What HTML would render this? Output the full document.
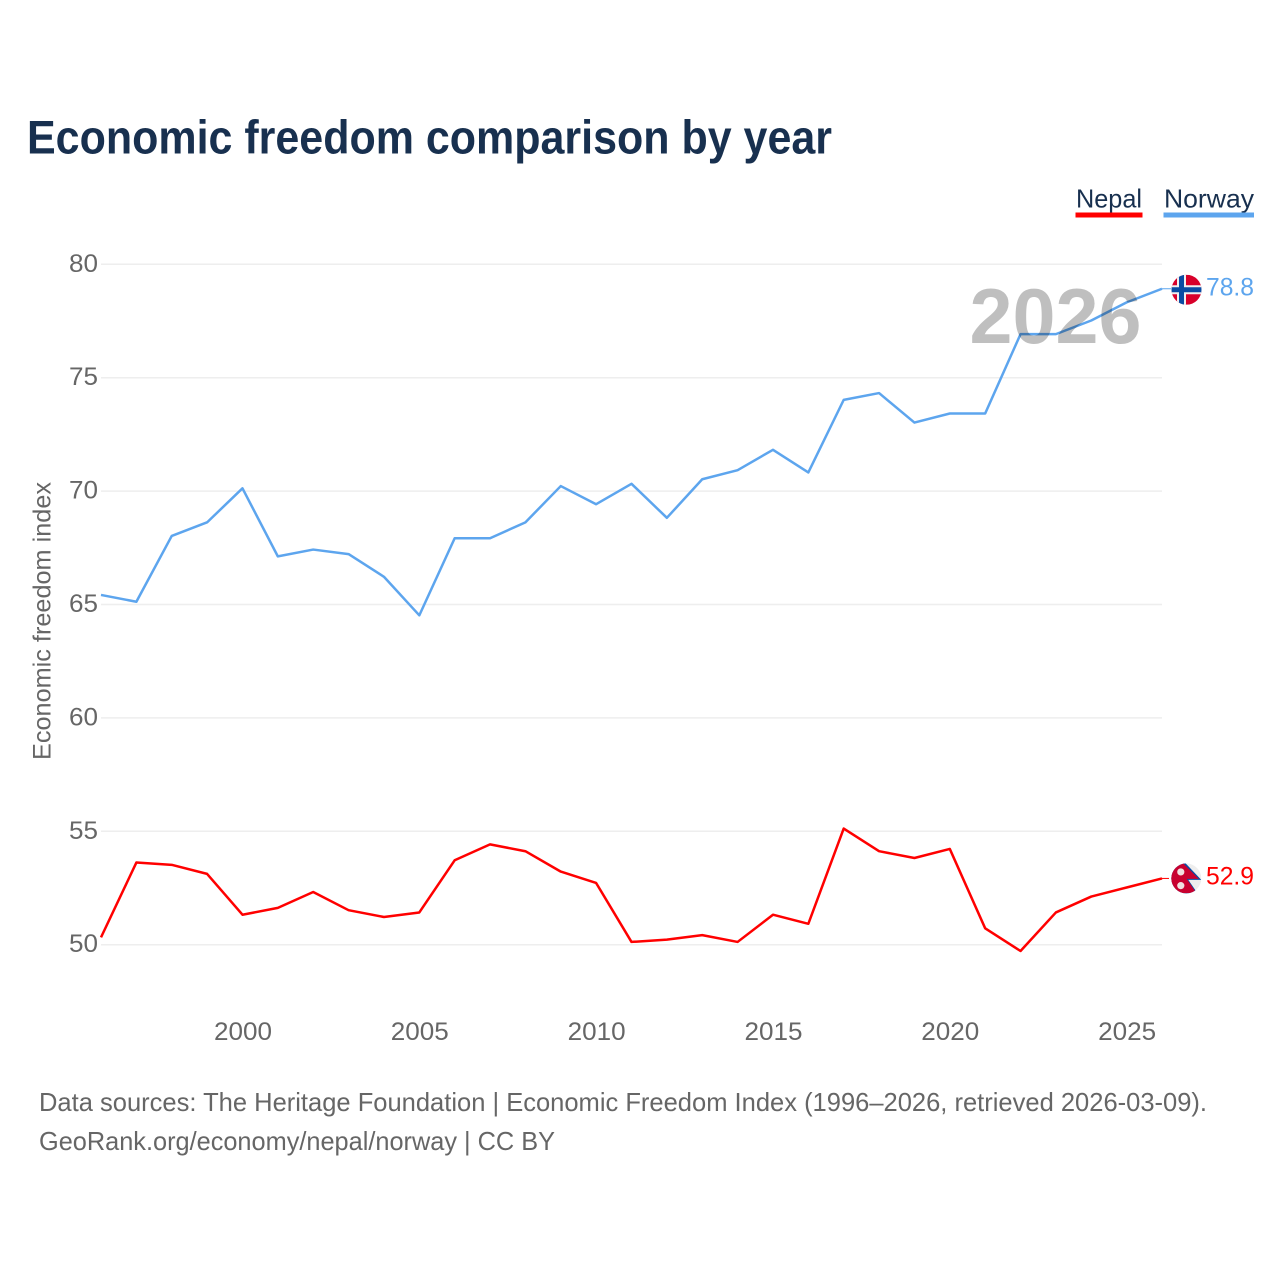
<!DOCTYPE html>
<html>
<head>
<meta charset="utf-8">
<title>Economic freedom comparison by year</title>
<style>
html,body{margin:0;padding:0;background:#fff;width:1280px;height:1280px;overflow:hidden}
svg{display:block}
text{font-family:"Liberation Sans",sans-serif}
</style>
</head>
<body>
<svg id="chart" width="1280" height="1280" viewBox="0 0 1280 1280" xmlns="http://www.w3.org/2000/svg">
  <defs>
    <clipPath id="flag-clip"><circle cx="0" cy="0" r="15"/></clipPath>
  </defs>
  <rect width="1280" height="1280" fill="#fff"/>
  <text x="27" y="153.5" font-size="47" font-weight="700" fill="#18304f" textLength="805" lengthAdjust="spacingAndGlyphs">Economic freedom comparison by year</text>

  <text x="1076" y="207.5" font-size="26" fill="#18304f" textLength="66" lengthAdjust="spacingAndGlyphs">Nepal</text>
  <rect x="1075.5" y="212.5" width="67" height="5" fill="#ff0000"/>
  <text x="1164" y="207.5" font-size="26" fill="#18304f" textLength="90" lengthAdjust="spacingAndGlyphs">Norway</text>
  <rect x="1163.5" y="212.5" width="90.5" height="5" fill="#5da5ee"/>

  <g id="grid"></g>
  <g id="yticks"></g>
  <g id="xticks"></g>
  <text transform="translate(50.5,760) rotate(-90)" x="0" y="0" font-size="25" fill="#666" textLength="278" lengthAdjust="spacingAndGlyphs">Economic freedom index</text>

  <g id="series"></g>

  <text x="969.5" y="343" font-size="78" font-weight="700" fill="#000" fill-opacity="0.25" textLength="172" lengthAdjust="spacingAndGlyphs">2026</text>

  <g id="flag-norway">
    <g clip-path="url(#flag-clip)">
      <rect x="-15" y="-15" width="30" height="30" fill="#d8002a"/>
      <rect x="-9.5" y="-15" width="9" height="30" fill="#f0f0f0"/>
      <rect x="-15" y="-4.5" width="30" height="9" fill="#f0f0f0"/>
      <rect x="-7.5" y="-15" width="5" height="30" fill="#0a4ca3"/>
      <rect x="-15" y="-2.5" width="30" height="5" fill="#0a4ca3"/>
    </g>
  </g>
  <g id="flag-nepal">
    <g clip-path="url(#flag-clip)">
      <rect x="-15" y="-15" width="30" height="30" fill="#eeeeee"/>
      <polygon points="-17,-18 -2.5,-17 15,1.5 2,1.5 12,16 -17,16" fill="#0a4ca3"/>
      <polygon points="-17,-18 -3.5,-15.5 12.5,0.5 0.5,0.5 10,14.5 -17,15" fill="#c8002f"/>
      <circle cx="-5.5" cy="-6.5" r="3.6" fill="#f0dfe0"/>
      <circle cx="-5.5" cy="7.2" r="3.6" fill="#f0dfe0"/>
    </g>
  </g>
  <text id="label-norway" x="1206" font-size="25" fill="#5da5ee" textLength="48" lengthAdjust="spacingAndGlyphs"></text>
  <text id="label-nepal" x="1206" font-size="25" fill="#ff0000" textLength="48" lengthAdjust="spacingAndGlyphs"></text>

  <text x="39" y="1111" font-size="26" fill="#666" textLength="1168" lengthAdjust="spacingAndGlyphs">Data sources: The Heritage Foundation | Economic Freedom Index (1996–2026, retrieved 2026-03-09).</text>
  <text x="39" y="1150" font-size="26" fill="#666" textLength="516" lengthAdjust="spacingAndGlyphs">GeoRank.org/economy/nepal/norway | CC BY</text>
</svg>
<script>
var years = [1996,1997,1998,1999,2000,2001,2002,2003,2004,2005,2006,2007,2008,2009,2010,2011,2012,2013,2014,2015,2016,2017,2018,2019,2020,2021,2022,2023,2024,2025,2026];
var norwayValues = [65.4,65.1,68.0,68.6,70.1,67.1,67.4,67.2,66.2,64.5,67.9,67.9,68.6,70.2,69.4,70.3,68.8,70.5,70.9,71.8,70.8,74.0,74.3,73.0,73.4,73.4,76.9,76.9,77.5,78.3,78.9];
var nepalValues = [50.3,53.6,53.5,53.1,51.3,51.6,52.3,51.5,51.2,51.4,53.7,54.4,54.1,53.2,52.7,50.1,50.2,50.4,50.1,51.3,50.9,55.1,54.1,53.8,54.2,50.7,49.7,51.4,52.1,52.5,52.9];
var yTickValues = [50,55,60,65,70,75,80];
var xTickValues = [2000,2005,2010,2015,2020,2025];
var norwayLabel = "78.8";
var nepalLabel = "52.9";

var NS = "http://www.w3.org/2000/svg";
function xScale(year){ return 101 + (year - 1996) * (1162 - 101) / 30; }
function yScale(v){ return 944.7 - (v - 50) * (944.7 - 264.3) / 30; }
function lineY(v){ return yScale(v) - 0.5; }

var grid = document.getElementById("grid");
var yticks = document.getElementById("yticks");
yTickValues.forEach(function(v){
  var line = document.createElementNS(NS, "line");
  
  
  line.setAttribute("x1", 101);
  line.setAttribute("x2", 1162);
  line.setAttribute("y1", yScale(v));
  line.setAttribute("y2", yScale(v));
  line.setAttribute("stroke", "#eeeeee");
  line.setAttribute("stroke-width", "1.5");
  grid.appendChild(line);

  var t = document.createElementNS(NS, "text");
  
  
  t.setAttribute("x", 98);
  t.setAttribute("y", yScale(v) + 7.5);
  t.setAttribute("text-anchor", "end");
  t.setAttribute("font-size", "25");
  t.setAttribute("fill", "#666");
  t.setAttribute("textLength", "29");
  t.setAttribute("lengthAdjust", "spacingAndGlyphs");
  t.textContent = v;
  yticks.appendChild(t);
});

var xticks = document.getElementById("xticks");
xTickValues.forEach(function(v){
  var t = document.createElementNS(NS, "text");
  
  
  t.setAttribute("x", xScale(v) + 0.5);
  t.setAttribute("y", 1040);
  t.setAttribute("text-anchor", "middle");
  t.setAttribute("font-size", "25");
  t.setAttribute("fill", "#666");
  t.setAttribute("textLength", "58");
  t.setAttribute("lengthAdjust", "spacingAndGlyphs");
  t.textContent = v;
  xticks.appendChild(t);
});

var seriesGroup = document.getElementById("series");
function pointsFor(values){
  return values.map(function(v, i){ return xScale(years[i]).toFixed(2) + "," + lineY(v).toFixed(2); }).join(" ");
}

var nepalLine = document.createElementNS(NS, "polyline");


nepalLine.setAttribute("points", pointsFor(nepalValues));
nepalLine.setAttribute("fill", "none");
nepalLine.setAttribute("stroke", "#ff0000");
nepalLine.setAttribute("stroke-width", "2.5");
nepalLine.setAttribute("stroke-linejoin", "round");
seriesGroup.appendChild(nepalLine);

var norwayLine = document.createElementNS(NS, "polyline");


norwayLine.setAttribute("points", pointsFor(norwayValues));
norwayLine.setAttribute("fill", "none");
norwayLine.setAttribute("stroke", "#5da5ee");
norwayLine.setAttribute("stroke-width", "2.5");
norwayLine.setAttribute("stroke-linejoin", "round");
seriesGroup.appendChild(norwayLine);

var lastNorwayY = lineY(norwayValues[norwayValues.length - 1]);
var lastNepalY = lineY(nepalValues[nepalValues.length - 1]);

var norwayConnector = document.createElementNS(NS, "line");


norwayConnector.setAttribute("x1", 1162);
norwayConnector.setAttribute("x2", 1171);
norwayConnector.setAttribute("y1", lastNorwayY);
norwayConnector.setAttribute("y2", lastNorwayY);
norwayConnector.setAttribute("stroke", "#5da5ee");
norwayConnector.setAttribute("stroke-width", "1");
seriesGroup.appendChild(norwayConnector);

var nepalConnector = document.createElementNS(NS, "line");


nepalConnector.setAttribute("x1", 1162);
nepalConnector.setAttribute("x2", 1169);
nepalConnector.setAttribute("y1", lastNepalY);
nepalConnector.setAttribute("y2", lastNepalY);
nepalConnector.setAttribute("stroke", "#ff0000");
nepalConnector.setAttribute("stroke-width", "1");
seriesGroup.appendChild(nepalConnector);

document.getElementById("flag-norway").setAttribute("transform", "translate(1186.5," + (lastNorwayY + 1) + ")");
document.getElementById("flag-nepal").setAttribute("transform", "translate(1186.3," + lastNepalY + ")");
var ln = document.getElementById("label-norway");
ln.setAttribute("y", lastNorwayY + 7);
ln.textContent = norwayLabel;
var lp = document.getElementById("label-nepal");
lp.setAttribute("y", lastNepalY + 6);
lp.textContent = nepalLabel;
</script>
</body>
</html>
